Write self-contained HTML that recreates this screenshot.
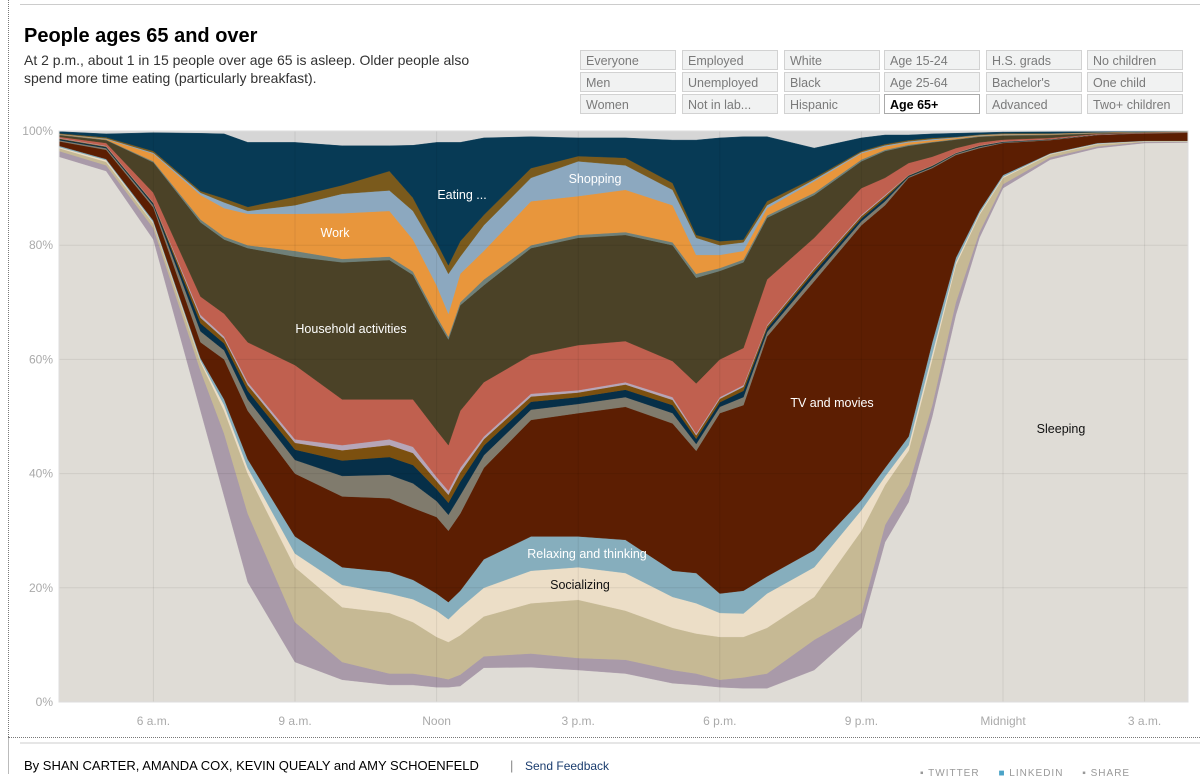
<!DOCTYPE html>
<html><head><meta charset="utf-8"><style>
body{margin:0;width:1200px;height:774px;overflow:hidden;background:#fff;font-family:"Liberation Sans",Arial,sans-serif;position:relative}
.abs{position:absolute}
#title{left:24px;top:25px;font-size:20px;font-weight:bold;color:#000}
#sub{left:24px;top:51px;font-size:14px;line-height:18px;color:#333;width:480px}
.btn{position:absolute;width:96px;height:20px;background:#f1f2f2;border:1px solid #d2d2d2;color:#7a7a7a;font-size:12.5px;line-height:20px;padding-left:5px;box-sizing:border-box}
.sel{background:#fff;color:#000;font-weight:bold;border-color:#aaa}
</style></head><body>
<div class="abs" style="left:20px;top:4px;width:1180px;height:1px;background:#ccc"></div>
<div class="abs" style="left:8px;top:0;height:737px;border-left:1px dotted #777"></div>
<div class="abs" style="left:8px;top:737px;height:37px;border-left:1px solid #bbb"></div>
<div class="abs" style="left:8px;top:737px;width:1192px;border-top:1px dotted #777"></div>
<div class="abs" style="left:20px;top:742px;width:1180px;height:2px;background:#e6e6e6"></div>
<div id="title" class="abs">People ages 65 and over</div>
<div id="sub" class="abs">At 2 p.m., about 1 in 15 people over age 65 is asleep. Older people also spend more time eating (particularly breakfast).</div>
<div id="btns"></div>
<svg class="abs" style="left:0;top:0" width="1200" height="774" id="chart"></svg>
<div class="abs" style="left:24px;top:758px;font-size:13px;color:#000">By SHAN CARTER, AMANDA COX, KEVIN QUEALY and AMY SCHOENFELD</div>
<div class="abs" style="left:510px;top:758px;font-size:13px;color:#888">|</div>
<div class="abs" style="left:525px;top:759px;font-size:12px;color:#1a3c6e">Send Feedback</div>
<div class="abs" style="left:920px;top:768px;font-size:10px;color:#999;letter-spacing:1px">▪ TWITTER &nbsp;&nbsp;&nbsp; <span style="color:#4ba3c7">■</span> LINKEDIN &nbsp;&nbsp;&nbsp; ▪ SHARE</div>
<script>
const hours=[4,5,6,7,7.5,8,9,10,11,11.5,12,12.25,12.5,13,14,15,16,17,17.5,18,18.5,19,20,21,21.5,22,22.5,23,23.5,24,25,26,27,28];
const sleeping=[95.5,93,81,51,36,21,7,3.9,3,3,2.6,2.6,2.8,6,6.1,5.6,5,3.3,3,2.6,2.4,2.4,5.6,13,28,35,50,67.8,81.3,90,95,97,97.9,98];
const personalCare=[1,1,2,7,11,12,7,3.1,2,2,1.8,1.4,2,2,2.4,2.1,2.4,2.3,2,1.3,1.9,2.6,5.3,2.6,3,3,2,2.2,1,0.7,0.4,0.3,0.2,0.1];
const otherLeisure=[0.5,0.6,0.8,1.5,4,7,9.6,9.6,10.6,9,7,6.5,6.9,7,8.8,10.2,8.6,7.4,7,7.5,7.1,8,7.5,14.4,7,6,8,6.5,3,1.1,0.5,0.4,0.1,0.1];
const socializing=[0.2,0.3,0.2,0.3,1,1,2.4,3.9,3.4,4,4.6,4,4.8,5,5.7,5.7,6.6,5.4,5.3,4.2,4.1,6,5.2,3.6,1.5,1,1,0.5,0.3,0.2,0.1,0.1,0.05,0.05];
const relaxing=[0.2,0.2,0.3,0.4,1,1.5,3,3.1,3.8,3.4,3,3,3,5,6,5.4,5.8,4.6,5.3,3.4,4,3,3,1.8,1.5,1.5,2,0.8,0.4,0.3,0.1,0.1,0.05,0.05];
const tvMovies=[0.8,1.6,2.3,2.8,7,8.5,11,12.4,12.9,12.6,13.4,12.5,13.5,16,20.4,21.6,23.3,25.8,21.4,31.6,32.5,42,47.1,48.1,46,45.3,30.5,18,11,5.6,2.3,1.4,1.3,1.4];
const computer=[0.2,0.3,0.4,1.9,1.6,2,2.4,3.6,4.1,4.3,2.8,2.8,3.2,2.2,1.8,1.6,1.7,1.8,1.2,1.1,1.4,0.8,0.9,0.7,0.7,0.2,0.2,0.2,0.2,0.1,0.1,0.05,0.02,0.02];
const games=[0.2,0.2,0.3,1.4,1.2,1.5,1.8,2.7,3.1,3.2,2.1,2.1,2.4,1.7,1.4,1.2,1.3,1.4,0.9,0.8,1.1,0.6,0.7,0.5,0.5,0.15,0.15,0.1,0.15,0.1,0.05,0.03,0.01,0.01];
const reading=[0.1,0.1,0.1,1,0.8,1,1.2,1.8,2.1,2.1,1.4,1.4,1.6,1.1,0.9,0.8,0.9,0.9,0.6,0.6,0.7,0.4,0.5,0.4,0.4,0.1,0.1,0.05,0.1,0.05,0.03,0.01,0.01,0.01];
const religious=[0.1,0.1,0.1,0.5,0.4,0.5,0.6,0.9,1,1.1,0.7,0.7,0.8,0.5,0.5,0.4,0.4,0.5,0.3,0.3,0.3,0.2,0.2,0.2,0.2,0.05,0.05,0.05,0.05,0.05,0.02,0.01,0.01,0.01];
const sports=[0.2,0.5,1.7,3.2,4,7,13,8,7,8.3,8.2,8,10,9.5,6.8,7.9,7.2,6.3,8.8,6.6,6.5,8,5.3,4.7,3,2.1,1.5,0.8,0.5,0.3,0.2,0.1,0.05,0.05];
const household=[0.3,0.5,5.3,13,13,16.5,19,24,24.4,21.8,19.4,18.5,18.5,17,18.7,18.8,18.6,20.3,18.5,15.5,15,10.8,7.5,4.7,4.7,3,2.5,1.5,1,0.7,0.5,0.1,0.05,0.05];
const education=[0.1,0.1,0.2,0.5,0.5,0.5,1,0.6,0.6,0.6,0.6,0.5,0.5,1,0.5,0.5,0.5,0.5,0.7,0.5,0.5,0.4,0.4,0.3,0.2,0.2,0.1,0.1,0.1,0.1,0.1,0.05,0.05,0.03];
const work=[0.05,0.1,1.3,4.3,5,5.5,6.5,8,8,5.6,5.4,4,5,5,7.7,6.8,7.4,6.5,3.3,2.3,1.5,1.3,2,1.1,0.6,0.4,0.3,0.2,0.1,0.1,0.1,0.05,0.02,0.02];
const shopping=[0.05,0.1,0.2,0.4,1,0.5,1.5,3.4,3.6,5,6,7,3,4.5,4.1,6.1,4.3,2.7,3,1.7,1.5,0.5,0.3,0.2,0.2,0.2,0.2,0.1,0.1,0.1,0.05,0.05,0.03,0.02];
const travel=[0.1,0.2,0.3,0.3,0.7,0.7,1.5,1.5,3.4,2.3,1.5,1.5,2.7,1.8,1.7,0.9,1.3,1.2,0.5,0.7,0.5,0.7,0.3,0.2,0.2,0.2,0.2,0.1,0.1,0.1,0.05,0.05,0.03,0.03];
const eating=[0.3,0.6,3.2,10.1,11.3,11.3,9.5,6.9,4.4,9.2,17.5,21.5,17.3,13.5,5.5,3.2,3.5,7.5,16.6,18.1,18,11.3,5.2,2.3,1.6,0.9,0.7,0.6,0.3,0.2,0.25,0.1,0.07,0.02];
const yTicks=[0,20,40,60,80,100];
const xTickHours=[6,9,12,15,18,21,24,27];
const xTickLabels=["6 a.m.","9 a.m.","Noon","3 p.m.","6 p.m.","9 p.m.","Midnight","3 a.m."];
const buttonLabels=[["Everyone","Men","Women"],["Employed","Unemployed","Not in lab..."],["White","Black","Hispanic"],["Age 15-24","Age 25-64","Age 65+"],["H.S. grads","Bachelor's","Advanced"],["No children","One child","Two+ children"]];

const seriesList=[
 ["sleeping",sleeping,"#dfdcd6"],["personal-care",personalCare,"#a99aa9"],["other-leisure",otherLeisure,"#c6b994"],
 ["socializing",socializing,"#ecdec7"],["relaxing",relaxing,"#86aebd"],["tv-and-movies",tvMovies,"#5c1e02"],
 ["computer",computer,"#807b6d"],["games",games,"#062f48"],["reading",reading,"#7c500f"],["religious",religious,"#b6a6b8"],
 ["sports",sports,"#c0604f"],["household",household,"#4b4227"],["education",education,"#6f8079"],["work",work,"#e8963c"],
 ["shopping",shopping,"#8ca8bf"],["travel",travel,"#7a5a1c"],["eating",eating,"#073a55"]];

const X0=59,X1=1188,Y0=702,Y100=131;
function xs(h){return X0+(h-4)*47.2;}
function ys(p){return Y0-(p/100)*(Y0-Y100);}
const NS="http://www.w3.org/2000/svg";
const svg=document.getElementById('chart');
function mk(tag,attrs){const e=document.createElementNS(NS,tag);for(const k in attrs)e.setAttribute(k,attrs[k]);return e;}
const defs=mk('defs',{});const cp=mk('clipPath',{id:'plotclip'});cp.appendChild(mk('rect',{x:X0,y:Y100,width:X1-X0,height:Y0-Y100}));defs.appendChild(cp);svg.appendChild(defs);
const bg=mk('rect',{x:X0,y:Y100,width:X1-X0,height:Y0-Y100,fill:'#d6d6d6'});


svg.appendChild(bg);
const g=mk('g',{'clip-path':'url(#plotclip)'});


svg.appendChild(g);
let base=hours.map(()=>0);
seriesList.forEach(s=>{
  const vals=s[1];const top=base.map((b,i)=>b+vals[i]);
  let d='M'+hours.map((h,i)=>xs(h).toFixed(1)+','+ys(top[i]).toFixed(1)).join('L');
  for(let i=hours.length-1;i>=0;i--)d+='L'+xs(hours[i]).toFixed(1)+','+ys(base[i]).toFixed(1);
  d+='Z';
  const p=mk('path',{d:d,fill:s[2],stroke:s[2],'stroke-width':0.4});
  
  
  g.appendChild(p);
  base=top;
});
yTicks.forEach(t=>{
  if(t>0&&t<100){const l=mk('line',{x1:X0,x2:X1,y1:ys(t),y2:ys(t),stroke:'rgba(0,0,0,0.07)'});
  
  
  svg.appendChild(l);}
  const tx=mk('text',{x:53,y:ys(t)+4,'text-anchor':'end','font-size':12,fill:'#aaa'});
  
  
  tx.textContent=t+'%';svg.appendChild(tx);
});
xTickHours.forEach((h,i)=>{
  const l=mk('line',{x1:xs(h),x2:xs(h),y1:Y100,y2:Y0,stroke:'rgba(0,0,0,0.07)'});
  
  
  svg.appendChild(l);
  const tx=mk('text',{x:xs(h),y:725,'text-anchor':'middle','font-size':12,fill:'#aaa'});
  
  
  tx.textContent=xTickLabels[i];svg.appendChild(tx);
});
const fr=mk('rect',{x:X0,y:Y100,width:X1-X0,height:Y0-Y100,fill:'none',stroke:'#ddd'});


svg.appendChild(fr);
const labels=[["Eating ...",462,199,"#fff"],["Shopping",595,183,"#fff"],["Work",335,237,"#fff"],["Household activities",351,333,"#fff"],["TV and movies",832,407,"#fff"],["Sleeping",1061,433,"#111"],["Relaxing and thinking",587,558,"#fff"],["Socializing",580,589,"#111"]];
labels.forEach(a=>{
  const tx=mk('text',{x:a[1],y:a[2],'text-anchor':'middle','font-size':12.5,fill:a[3]});
  
  
  tx.textContent=a[0];svg.appendChild(tx);
});
const colX=[580,682,784,884,986,1087],rowY=[50,72,94];
const bw=document.getElementById('btns');
buttonLabels.forEach((col,c)=>col.forEach((lab,r)=>{
  const b=document.createElement('div');
  b.className='btn'+(lab==='Age 65+'?' sel':'');
  b.style.left=colX[c]+'px';b.style.top=rowY[r]+'px';
  
  
  b.textContent=lab;bw.appendChild(b);
}));
</script>
</body></html>
